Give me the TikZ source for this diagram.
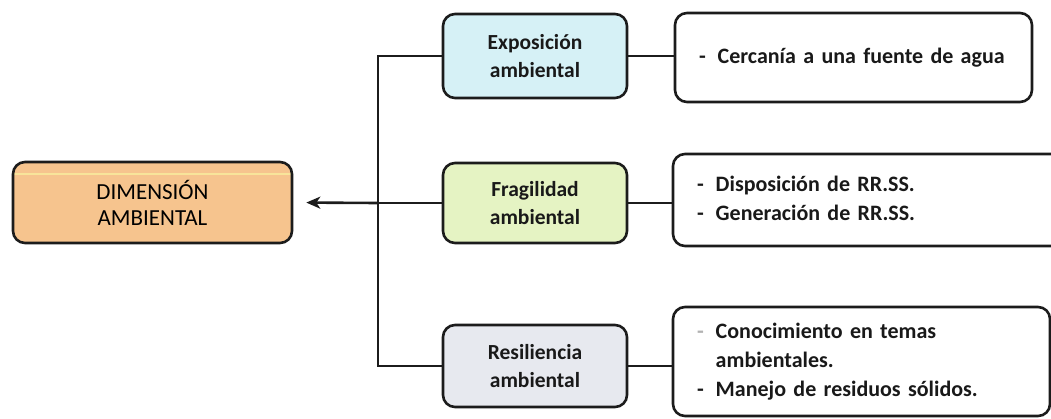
\documentclass[tikz,border=0pt]{standalone}
\usepackage{fontspec}
\setmainfont{Carlito}
\usetikzlibrary{arrows,arrows.meta,shapes,backgrounds}

\definecolor{dimfill}{HTML}{F6C48E}
\definecolor{dimglow}{HTML}{F8E49A}
\definecolor{expofill}{HTML}{D6F1F6}
\definecolor{fragfill}{HTML}{E5F3C3}
\definecolor{resifill}{HTML}{E7E9EF}
\definecolor{inkline}{HTML}{1C1C1C}

\begin{document}
\begin{tikzpicture}[>={Stealth[length=14pt,width=12pt,inset=4pt]}, x=1pt, y=-1pt,
	box/.style={rectangle, draw=inkline, line width=2.6pt, rounded corners=12pt, text=black!90},
	factor/.style={box, align=center, minimum width=184pt, font=\fontsize{21.5}{28}\selectfont\bfseries},
	item/.style={box, align=left, inner xsep=24pt, font=\fontsize{22}{29}\selectfont\bfseries},
	conn/.style={draw=inkline, line width=2.6pt}]

\useasboundingbox (0,0) rectangle (1051,418);

% dimension
\node [box, fill=dimfill, text centered, align=center,
                        minimum width=279pt, minimum height=81pt,
                        font=\fontsize{23}{26}\selectfont, text=black,
                        path picture={\draw [dimglow, line width=2.5pt]
                          ([yshift=-12pt]path picture bounding box.north west) --
                          ([yshift=-12pt]path picture bounding box.north east);}] (dim) at (152.5,202.5) {DIMENSIÓN\\AMBIENTAL};

% factores
\node [factor, fill=expofill, minimum height=84pt] (expo) at (535,56) {Exposición\\ambiental};
\node [factor, fill=fragfill, minimum height=80pt] (frag) at (535,203) {Fragilidad\\ambiental};
\node [factor, fill=resifill, minimum height=82pt] (resi) at (535,366) {Resiliencia\\ambiental};

% indicadores
\node [item, text width=309pt, minimum height=89pt] (cerca) at (853.5,57.5) {\begin{tabular}{@{}l@{\hspace{12pt}}l@{}}
	- & Cercanía a una fuente de agua\end{tabular}};
\node [item, text width=342pt, minimum height=92pt] (rrss) at (868,200) {\begin{tabular}{@{}l@{\hspace{12pt}}l@{}}
	- & Disposición de RR.SS.\\
	- & Generación de RR.SS.\end{tabular}};
\node [item, text width=329pt, minimum height=109pt] (resid) at (861.5,361.5) {\begin{tabular}{@{}l@{\hspace{12pt}}l@{}}
	\textcolor{black!30}{-} & Conocimiento en temas\\
	 & ambientales.\\
	- & Manejo de residuos sólidos.\end{tabular}};

\coordinate (trunk) at (378,203);

\draw [conn] (expo.west) to (expo.west -| trunk) to (resi.west -| trunk) to (resi.west);
\draw [conn] (frag.west) to (trunk);
\draw [conn, ->, shorten >=13pt] (trunk) to (dim.east);
%\draw [conn] (dim.east) to (trunk);

\draw [conn] (expo.east) to (cerca.west |- expo.east);
\draw [conn] (frag.east) to (rrss.west |- frag.east);
\draw [conn] (resi.east) to (resid.west |- resi.east);

\end{tikzpicture}
\end{document}
